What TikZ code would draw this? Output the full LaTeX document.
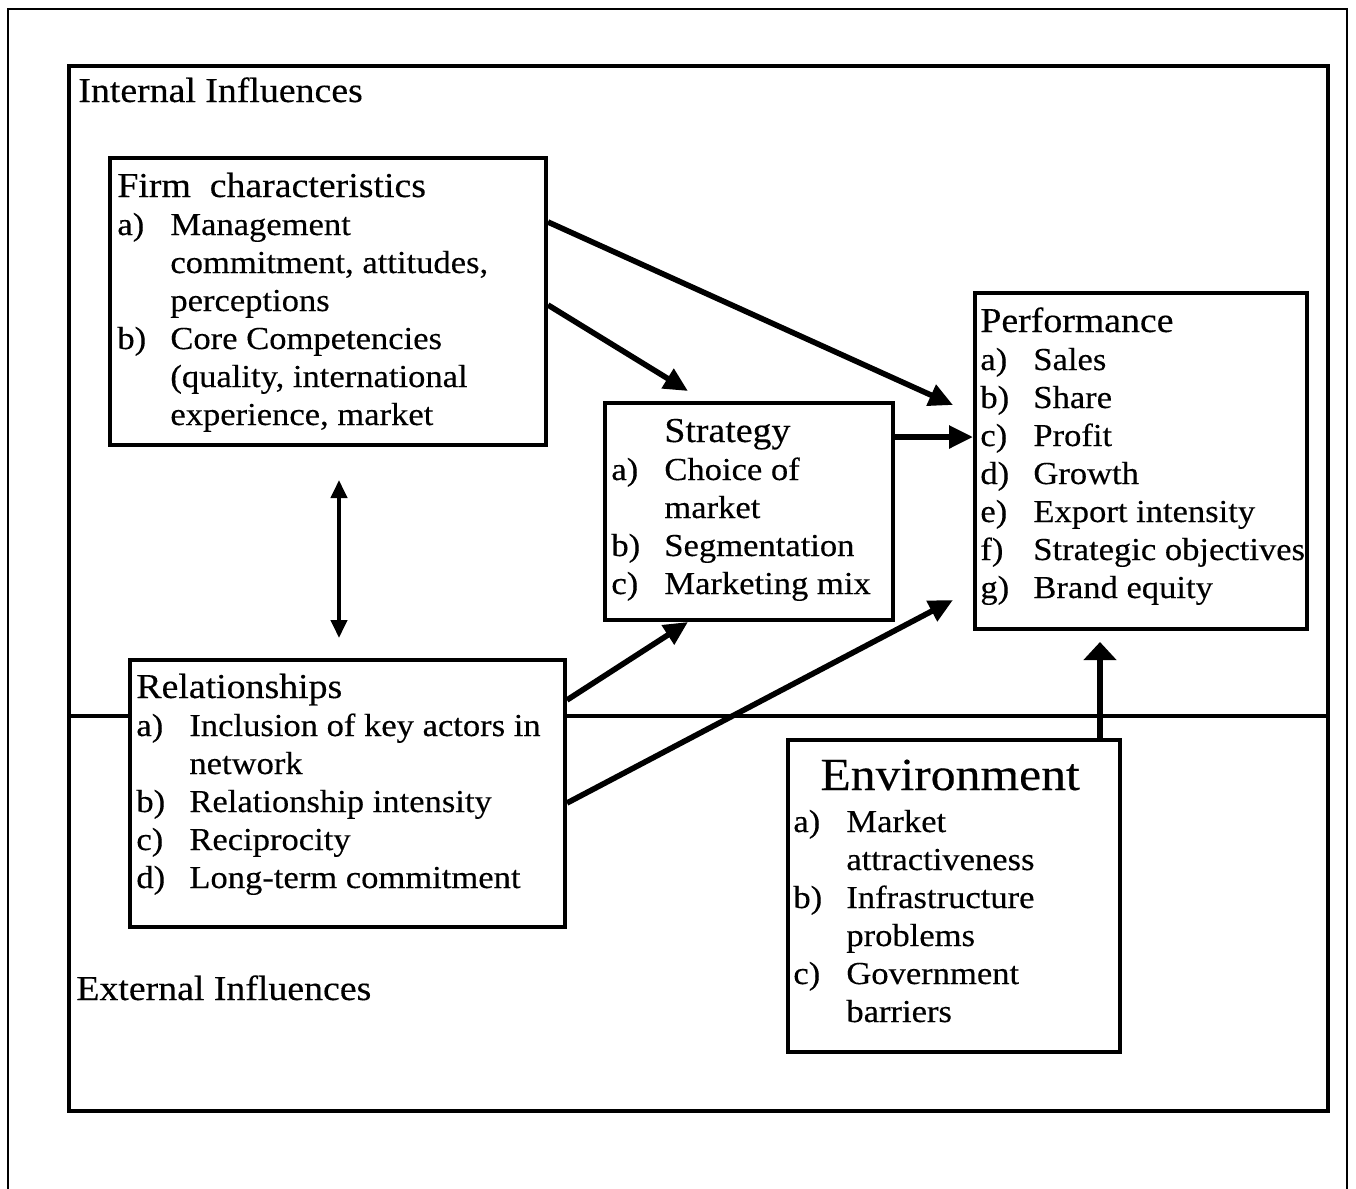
\documentclass[tikz,border=0pt]{standalone}
\usepackage{fontspec}
\setmainfont{Liberation Serif}[FakeStretch=1.08,FakeBold=0.3]
\usepackage{array}
\usetikzlibrary{arrows.meta,calc}

\tikzset{
  box/.style={draw, line width=2pt, fill=white, inner sep=0pt},
  txt/.style={anchor=base west, inner sep=0pt, font=\fontsize{16}{19}\selectfont},
  area/.style={anchor=base west, inner sep=0pt, font=\fontsize{17.5}{21}\selectfont},
  conn/.style={line width=2.8pt, -{Triangle[length=12pt,width=11pt]}},
  frameline/.style={line width=2.2pt},
}
\newcolumntype{L}{@{}p{26.5pt}@{}l@{}}
% box headings are set a little larger than the items
\newcommand\heading[1]{{\fontsize{17.5}{19}\selectfont #1}}

\begin{document}
\begin{tikzpicture}[x=0.5pt,y=-0.5pt]
  \useasboundingbox (0,0) rectangle (1356,1189);
  \fill[white] (0,0) rectangle (1356,1189);

  % page frame (open at the bottom) and the influence frame
  \draw[line width=1pt] (8,1189) -- (8,9) -- (1347,9) -- (1347,1189);
  \draw[frameline] (69,66) rectangle (1328,1111);
  \draw[frameline] (69,716) -- (1328,716);

  % boxes
  \node[box, minimum width=218pt, minimum height=143.5pt] (firm) at (328,301.5) {};
  \node[box, minimum width=144pt, minimum height=108.5pt] (strat) at (749,511.5) {};
  \node[box, minimum width=166pt, minimum height=168pt] (perf) at (1141,461) {};
  \node[box, minimum width=217.5pt, minimum height=133.5pt] (rel) at (347.5,793.5) {};
  \node[box, minimum width=166pt, minimum height=156pt] (env) at (954,896) {};

  % area labels
  \node[area] (intl) at (78,102) {Internal Influences};
  \node[area] (extl) at (76,1000) {External Influences};

  % box contents
  \node[txt] (firmtxt) at (117,197) {\begin{tabular}[t]{L}
    \multicolumn{2}{@{}l@{}}{\heading{Firm\ \ characteristics}}\\
    a) & Management\\
       & commitment, attitudes,\\
       & perceptions\\
    b) & Core Competencies\\
       & (quality, international\\
       & experience, market
  \end{tabular}};

  \node[txt] (strattxt) at (611,442) {\begin{tabular}[t]{L}
       & \heading{Strategy}\\
    a) & Choice of\\
       & market\\
    b) & Segmentation\\
    c) & Marketing mix
  \end{tabular}};

  \node[txt] (perftxt) at (980,332) {\begin{tabular}[t]{L}
    \multicolumn{2}{@{}l@{}}{\heading{Performance}}\\
    a) & Sales\\
    b) & Share\\
    c) & Profit\\
    d) & Growth\\
    e) & Export intensity\\
    f) & Strategic objectives\\
    g) & Brand equity
  \end{tabular}};

  \node[txt] (reltxt) at (136,698) {\begin{tabular}[t]{L}
    \multicolumn{2}{@{}l@{}}{\heading{Relationships}}\\
    a) & Inclusion of key actors in\\
       & network\\
    b) & Relationship intensity\\
    c) & Reciprocity\\
    d) & Long-term commitment
  \end{tabular}};

  \node[txt] (envtxt) at (793,790) {\begin{tabular}[t]{L}
    \multicolumn{2}{@{}l@{}}{\hspace{13.5pt}\fontsize{23}{25}\selectfont Environment}\\[2pt]
    a) & Market\\
       & attractiveness\\
    b) & Infrastructure\\
       & problems\\
    c) & Government\\
       & barriers
  \end{tabular}};

  % influences
  \draw[conn] ([yshift=39.75pt]firm.east) -- ([xshift=-10pt,yshift=28pt]perf.west);
  \draw[conn] ([yshift=-1.75pt]firm.east) -- ([xshift=-30.5pt,yshift=5pt]strat.north);
  \draw[conn] ([yshift=37.25pt]strat.east) -- ([yshift=12pt]perf.west);
  \draw[conn] ([yshift=46.75pt]rel.east) -- ([xshift=-30.5pt]strat.south);
  \draw[conn] ([yshift=-4.75pt]rel.east) -- ([xshift=-10pt,yshift=-69.5pt]perf.west);
  \draw[line width=2.8pt, -{Triangle[length=9pt,width=16pt]}]
    ([xshift=73pt]env.north) -- ([xshift=-20.5pt,yshift=-5.5pt]perf.south);
  \draw[line width=2pt, {Triangle[length=9pt,width=8pt]}-{Triangle[length=9pt,width=8pt]}]
    ([xshift=5.5pt,yshift=-16.5pt]firm.south) -- ([xshift=-4.25pt,yshift=10pt]rel.north);
\end{tikzpicture}
\end{document}
